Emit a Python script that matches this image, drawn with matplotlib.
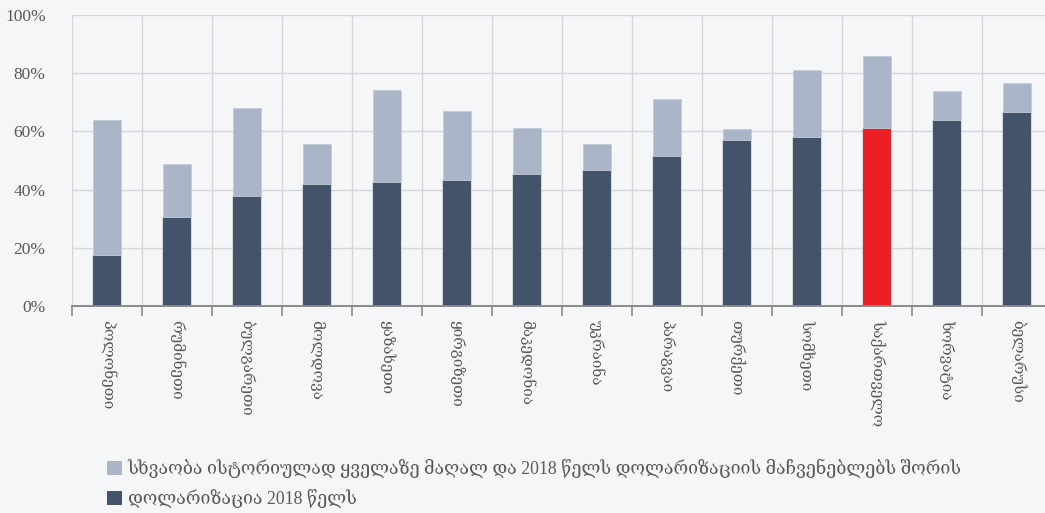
import numpy as np
import matplotlib
matplotlib.use("Agg")
import matplotlib.pyplot as plt
from matplotlib.patches import Patch

# dollarization by country: 2018 level and gap to the historical peak (%)
countries = ["პოლონეთი", "რუმინეთი", "ბულგარეთი", "მოლდოვა", "ყაზახეთი",
             "ყირგიზეთი", "მაკედონია", "უკრაინა", "პარაგვაი", "თურქეთი",
             "სომხეთი", "საქართველო", "ხორვატია", "ბელარუსი"]
dollar_2018 = [17.5, 30.6, 37.8, 42.0, 42.5, 43.3, 45.3, 46.6, 51.7, 57.0,
               58.2, 61.3, 64.0, 66.7]
peak_total = [64.0, 48.8, 68.0, 55.5, 74.3, 67.1, 61.3, 55.8, 71.1, 60.9,
              81.0, 86.0, 73.9, 76.6]
highlight = "საქართველო"

label_gap = "სხვაობა ისტორიულად ყველაზე მაღალ და 2018 წელს დოლარიზაციის მაჩვენებლებს შორის"
label_2018 = "დოლარიზაცია 2018 წელს"
yticks = [0, 20, 40, 60, 80, 100]

bg = "#f5f6f8"
dark = "#435369"
light = "#aab5c7"
red = "#ee1f24"
grid_c = "#d4d6da"
text_c = "#595959"
fonts = ["Liberation Serif", "DejaVu Serif", "DejaVu Sans"]

plt.rcParams["font.family"] = fonts

fig = plt.figure(figsize=(10.45, 5.13), dpi=100, facecolor=bg)
ax = fig.add_axes([72 / 1045, 1 - 306 / 513, 980 / 1045, 291 / 513], facecolor=bg)

x = np.arange(len(countries))
gap = np.array(peak_total) - np.array(dollar_2018)
base_colors = [red if c == highlight else dark for c in countries]

ax.bar(x, dollar_2018, width=0.41, color=base_colors, zorder=3,
       edgecolor="#5d6b80", linewidth=0.3)
ax.bar(x, gap, bottom=dollar_2018, width=0.41, color=light, zorder=3,
       edgecolor="#c3ccd8", linewidth=0.6)

ax.set_xlim(-0.5, len(countries) - 0.5)
ax.set_ylim(0, 100)
ax.set_yticks(yticks)
ax.set_yticklabels([f"{v}%" for v in yticks], fontsize=12.5, color=text_c)
ax.tick_params(axis="y", length=0, pad=19)

# labels centred on bars, tick marks and vertical grid on category edges
ax.set_xticks(x)
ax.set_xticklabels(countries, rotation=-90, fontsize=11, color=text_c,
                   va="top", ha="center")
ax.tick_params(axis="x", which="major", length=0, pad=10)
ax.set_xticks(np.arange(len(countries) + 1) - 0.5, minor=True)
ax.tick_params(axis="x", which="minor", length=7, width=1.2, color="#8a8a8a")

ax.grid(axis="y", color=grid_c, linewidth=1.0, zorder=0)
ax.grid(axis="x", which="minor", color=grid_c, linewidth=1.0, zorder=0)

for side in ["top", "right", "left"]:
    ax.spines[side].set_visible(False)
ax.spines["bottom"].set_color("#8a8a8a")
ax.spines["bottom"].set_linewidth(1.4)
ax.spines["bottom"].set_zorder(4)

handles = [Patch(facecolor=light, edgecolor="none", label=label_gap),
           Patch(facecolor=dark, edgecolor="none", label=label_2018)]
leg = fig.legend(handles=handles, loc="upper left",
                 bbox_to_anchor=(100 / 1045, 1 - 452 / 513),
                 frameon=False, fontsize=12.8, handlelength=0.85, handleheight=0.85,
                 handletextpad=0.3, labelspacing=0.62, borderaxespad=0)
for t in leg.get_texts():
    t.set_color(text_c)

fig.savefig("out.png", dpi=100, facecolor=bg)
